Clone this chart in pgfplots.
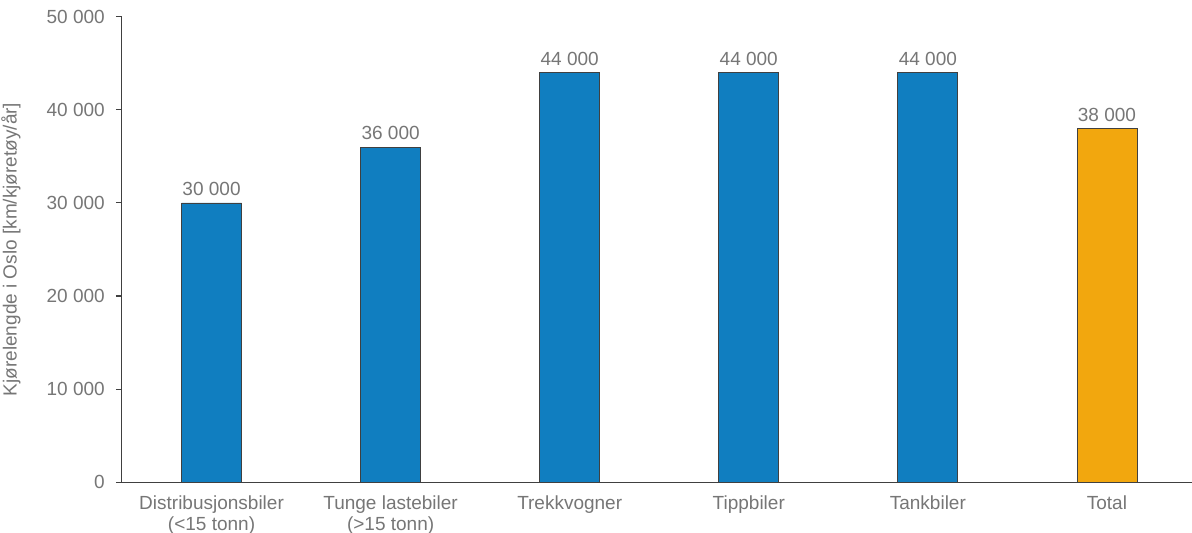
\documentclass[border=0pt]{standalone}
\usepackage{fontspec}
\setmainfont{Liberation Sans}
\usepackage{pgfplots}
\pgfplotsset{compat=1.18}

\definecolor{barblue}{RGB}{16,126,192}
\definecolor{barorange}{RGB}{242,167,14}
\definecolor{txtgray}{RGB}{118,118,118}
\definecolor{linegray}{RGB}{64,64,64}

\begin{document}
\begin{tikzpicture}
\useasboundingbox (-122pt,-51pt) rectangle (1070pt,482pt);
\begin{axis}[
  at={(0,0)}, anchor=south west,
  scale only axis,
  width=1070pt, height=465pt,
  ybar, bar width=60pt, bar shift=0pt,
  xmin=-0.5, xmax=5.475,
  ymin=0, ymax=50000,
  ytick={0,10000,20000,30000,40000,50000},
  scaled y ticks=false,
  xtick={0,1,2,3,4,5},
  xticklabels={{Distribusjonsbiler\\(<15 tonn)},{Tunge lastebiler\\(>15 tonn)},Trekkvogner,Tippbiler,Tankbiler,Total},
  axis x line=bottom, axis y line=left,
  axis line style={-, draw=linegray, line width=1pt},
  ytick style={draw=linegray, line width=1pt},
  xtick style={draw=none},
  tick align=outside,
  major tick length=6pt,
  /pgf/number format/assume math mode=true,
  /pgf/number format/1000 sep={\ },
  /pgf/number format/fixed,
  yticklabel style={font=\fontsize{19}{22}\selectfont, text=txtgray, inner sep=0pt, xshift=-11pt},
  xticklabel style={font=\fontsize{19}{21}\selectfont, text=txtgray, inner sep=0pt, align=center, yshift=-8pt},
  every axis y label/.style={at={(axis description cs:0,0.5)}, xshift=-111pt, rotate=90, anchor=center, font=\fontsize{19}{22}\selectfont, text=txtgray},
  ylabel={Kjørelengde i Oslo [km/kjøretøy/år]},
  nodes near coords,
  every node near coord/.append style={font=\fontsize{19}{22}\selectfont, text=txtgray, anchor=south, inner sep=0pt, yshift=7pt},
  clip=false,
]
\addplot[fill=barblue, draw=linegray, line width=0.8pt] coordinates {
  (0,30000) (1,36000) (2,44000) (3,44000) (4,44000)
};
\addplot[fill=barorange, draw=linegray, line width=0.8pt] coordinates {
  (5,38000)
};
\end{axis}
\end{tikzpicture}
\end{document}
